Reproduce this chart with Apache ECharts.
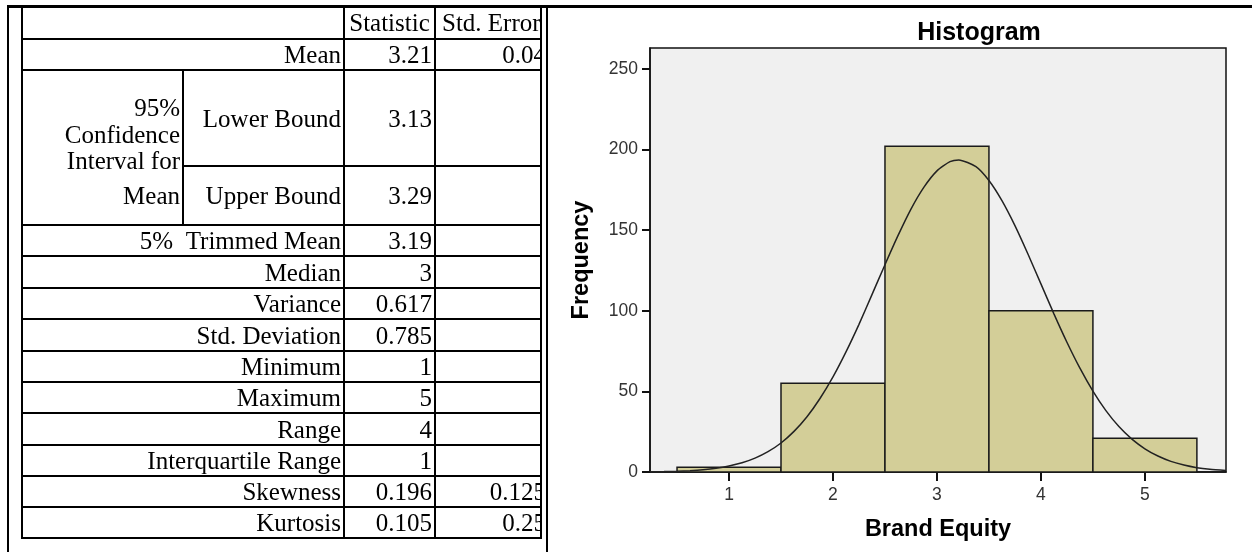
<!DOCTYPE html>
<html>
<head>
<meta charset="utf-8">
<title>Descriptives and Histogram</title>
<script src="https://cdn.jsdelivr.net/npm/echarts@6.0.0/dist/echarts.min.js"></script>
<style>
  html, body { margin: 0; padding: 0; background: #fff; }
  #main { width: 1252px; height: 552px; }
</style>
</head>
<body>
<div id="main"></div>
<script>
// descriptives table
var headers = ['Statistic', 'Std. Error'];
var rowLabels = ['Mean', 'Lower Bound', 'Upper Bound', '5%  Trimmed Mean', 'Median', 'Variance',
  'Std. Deviation', 'Minimum', 'Maximum', 'Range', 'Interquartile Range', 'Skewness', 'Kurtosis'];
var statValues = ['3.21', '3.13', '3.29', '3.19', '3', '0.617', '0.785', '1', '5', '4', '1', '0.196', '0.105'];
var stdErrors = ['0.04', '', '', '', '', '', '', '', '', '', '', '0.125', '0.25'];
var ciLabel = ['95%', 'Confidence', 'Interval for', 'Mean'];

// histogram of Brand Equity
var binStart = [0.5, 1.5, 2.5, 3.5, 4.5];
var binEnd = [1.5, 2.5, 3.5, 4.5, 5.5];
var frequency = [3, 55, 202, 100, 21];
var xTicks = [1, 2, 3, 4, 5];
var yTicks = [0, 50, 100, 150, 200, 250];
// normal curve
var curveX = [0.24, 0.375, 0.5, 0.625, 0.75, 0.875, 1, 1.125, 1.25, 1.375, 1.5, 1.625, 1.75, 1.875, 2,
  2.125, 2.25, 2.375, 2.5, 2.625, 2.75, 2.875, 3, 3.125, 3.21, 3.375, 3.5, 3.625, 3.75, 3.875, 4,
  4.125, 4.25, 4.375, 4.5, 4.625, 4.75, 4.875, 5, 5.125, 5.25, 5.375, 5.5, 5.625, 5.78];
var curveY = [0.15, 0.28, 0.5, 0.85, 1.4, 2.3, 3.7, 5.7, 8.6, 12.6, 18, 25.2, 34.3, 45.6, 59,
  74.5, 91.6, 110, 128.6, 146.6, 163.1, 176.7, 186.8, 192.5, 193.6, 189.4, 180.8, 168.3, 152.8, 135.2, 116.7,
  98.1, 80.5, 64.4, 50.2, 38.1, 28.2, 20.4, 14.4, 9.9, 6.6, 4.3, 2.7, 1.7, 0.9];

var serif = '25px "Liberation Serif", "Times New Roman", serif';

// table layout
var rowLines = [39, 70, 166, 225, 256, 288, 319, 351, 382, 413, 445, 476, 507, 538];
var tblLeft = 22, tblRight = 542, ciCol = 183, statCol = 344, errCol = 435;

var graphics = [];
function txt(s, x, y, align) {
  graphics.push({
    type: 'text', z: 10,
    style: { text: s, x: x, y: y, font: serif, fill: '#000',
      align: align, verticalAlign: 'middle', textAlign: align, textVerticalAlign: 'middle' }
  });
}
function bar(x, y, w, h, color) {
  graphics.push({ type: 'rect', z: 20, shape: { x: x, y: y, width: w, height: h }, style: { fill: color || '#000' } });
}

// header
txt(headers[0], (statCol + errCol) / 2, 24, 'center');
txt(headers[1], errCol + 7, 24, 'left');

for (var i = 0; i < rowLabels.length; i++) {
  var yc = (rowLines[i] + rowLines[i + 1]) / 2 + 2;
  if (i === 2) yc = 197;
  txt(rowLabels[i], statCol - 3, yc, 'right');
  txt(statValues[i], errCol - 3, yc, 'right');
  if (stdErrors[i]) txt(stdErrors[i], 546, yc, 'right');
}
var ciY = [109, 136, 162, 197];
ciLabel.forEach(function (s, k) { txt(s, ciCol - 3, ciY[k], 'right'); });

// clip the overflow of the last column
bar(tblRight, 8, 4, 531, '#fff');

// frame and grid lines
bar(7, 5, 1245, 3);           // top rule
bar(7, 5, 2, 547);            // outer left
bar(546, 5, 2, 547);          // outer right
bar(tblLeft - 1, 5, 2, 534);  // table left
bar(tblRight - 2, 5, 2, 534); // table right
bar(statCol - 1, 5, 2, 534);
bar(errCol - 1, 5, 2, 534);
bar(ciCol - 1, rowLines[1], 2, rowLines[3] - rowLines[1]);
rowLines.forEach(function (y, k) {
  var x0 = (k === 2) ? ciCol : tblLeft - 1;
  bar(x0, y - 1, tblRight - x0, 2);
});

var bins = binStart.map(function (s, i) { return [s, binEnd[i], frequency[i]]; });
var curve = curveX.map(function (x, i) { return [x, curveY[i]]; });

var sans = 'Liberation Sans, Arial, sans-serif';
var chart = echarts.init(document.getElementById('main'));
var option = {
  backgroundColor: '#fff',
  animation: false,
  title: {
    text: 'Histogram', left: 979, top: 21, padding: 0, textAlign: 'center',
    textStyle: { fontFamily: sans, fontSize: 25, fontWeight: 'bold', color: '#000' }
  },
  grid: {
    left: 650, top: 48, width: 576, height: 424,
    show: true, backgroundColor: '#f0f0f0', borderColor: '#111', borderWidth: 1.5
  },
  xAxis: {
    type: 'value', min: 0.24, max: 5.78,
    name: 'Brand Equity', nameLocation: 'middle', nameGap: 46,
    nameTextStyle: { fontFamily: sans, fontSize: 23.5, fontWeight: 'bold', color: '#000' },
    axisLine: { show: true, lineStyle: { color: '#111', width: 1.5 } },
    axisTick: { show: true, length: 9, customValues: xTicks, lineStyle: { color: '#111', width: 2 } },
    axisLabel: { customValues: xTicks, margin: 14, fontFamily: sans, fontSize: 17.5, color: '#333' },
    splitLine: { show: false }
  },
  yAxis: {
    type: 'value', min: 0, max: 263,
    name: 'Frequency', nameLocation: 'middle', nameGap: 56,
    nameTextStyle: { fontFamily: sans, fontSize: 23.5, fontWeight: 'bold', color: '#000' },
    axisLine: { show: true, lineStyle: { color: '#111', width: 1.5 } },
    axisTick: { show: true, length: 8, customValues: yTicks, lineStyle: { color: '#111', width: 2 } },
    axisLabel: { customValues: yTicks, margin: 12, fontFamily: sans, fontSize: 17.5, color: '#333' },
    splitLine: { show: false }
  },
  graphic: graphics,
  series: [
    {
      type: 'custom',
      data: bins,
      encode: { x: [0, 1], y: 2 },
      renderItem: function (params, api) {
        var p0 = api.coord([api.value(0), api.value(2)]);
        var p1 = api.coord([api.value(1), 0]);
        return {
          type: 'rect',
          shape: { x: p0[0], y: p0[1], width: p1[0] - p0[0], height: p1[1] - p0[1] },
          style: { fill: '#d3ce98', stroke: '#1a1a1a', lineWidth: 1.5 }
        };
      }
    },
    {
      type: 'line',
      data: curve,
      smooth: 0.2,
      symbol: 'none',
      lineStyle: { color: '#222', width: 1.5 }
    }
  ]
};
chart.setOption(option);
</script>
</body>
</html>
